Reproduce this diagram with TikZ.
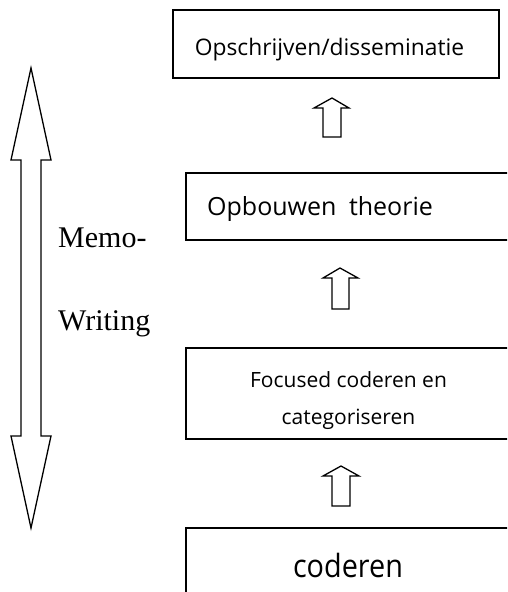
\documentclass[tikz,border=0pt]{standalone}
\usepackage{fontspec}
\setmainfont{Liberation Serif}
\newfontfamily\boxfont{Open Sans}
\begin{document}
\begin{tikzpicture}[x=1pt,y=-1pt,
  boxstyle/.style={draw=black,line width=1.2pt,rectangle,inner sep=0pt},
  blockarrow/.style={draw=black,line width=1.3pt,fill=white,line join=miter},
  boxtext/.style={inner sep=0pt,anchor=base,font=\boxfont},
  memotext/.style={inner sep=0pt,anchor=base west,font=\fontsize{30}{30}\selectfont}]
\useasboundingbox (0,0) rectangle (507,592);
\clip (0,0) rectangle (507,592);
% boxes
\node[boxstyle,minimum width=326pt,minimum height=68pt] (b1) at (336,44) {};
\node[boxstyle,minimum width=340pt,minimum height=67pt] (b2) at (356,206.5) {};
\node[boxstyle,minimum width=340pt,minimum height=91pt] (b3) at (356,393.5) {};
\node[boxstyle,minimum width=340pt,minimum height=100pt] (b4) at (356,578) {};
% texts
\node[boxtext] (t1) at (329.5,55) {\fontsize{22.8}{22.8}\selectfont Opschrijven/disseminatie};
\node[boxtext] (t2) at (320,215) {\fontsize{25}{25}\selectfont Opbouwen\hspace{0.5em}theorie};
\node[boxtext] (t3a) at (348.5,387) {\fontsize{21}{21}\selectfont Focused coderen en};
\node[boxtext] (t3b) at (348.5,424) {\fontsize{21}{21}\selectfont categoriseren};
\node[boxtext] (t4) at (348,577) {\scalebox{0.9}[1]{\fontsize{32}{32}\selectfont coderen}};
\node[memotext] (m1) at (58,247) {Memo-};
\node[memotext] (m2) at (58,330) {Writing};
% small block arrows
\coordinate (a1) at (332,98);
\draw[blockarrow] (a1) -- (349,108) -- (341,108) -- (341,137) -- (323,137) -- (323,108) -- (314,108) -- cycle;
\coordinate (a2) at (340,268);
\draw[blockarrow] (a2) -- (358,278) -- (349,278) -- (349,309) -- (332,309) -- (332,278) -- (323,278) -- cycle;
\coordinate (a3) at (341,466);
\draw[blockarrow] (a3) -- (359,476) -- (350,476) -- (350,506) -- (332,506) -- (332,476) -- (323,476) -- cycle;
% big double arrow
\coordinate (dtop) at (31,68);
\coordinate (dbot) at (31,528);
\draw[blockarrow] (dtop) -- (51,160) -- (41,160) -- (41,436) -- (51,436) -- (dbot) -- (11,436) -- (21,436) -- (21,160) -- (11,160) -- cycle;
\end{tikzpicture}
\end{document}
